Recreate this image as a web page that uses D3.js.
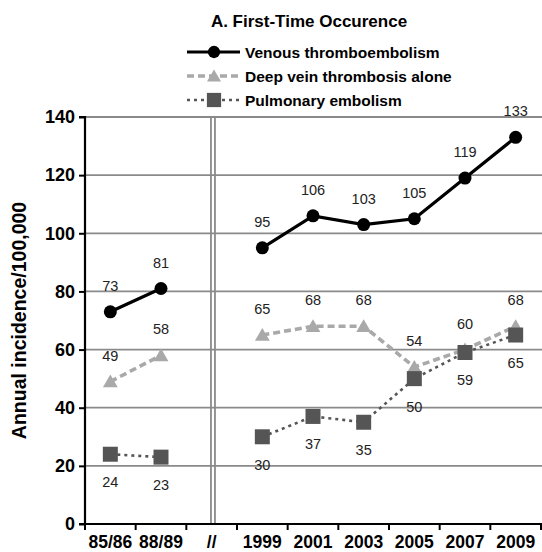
<!DOCTYPE html>
<html><head><meta charset="utf-8">
<script src="https://cdn.jsdelivr.net/npm/d3@7"></script>
<style>body{margin:0;background:#fff}svg{display:block;font-family:Arial,"Liberation Sans",sans-serif}</style>
</head><body>
<svg id="c" width="542" height="552"></svg>
<script>
const categories = ["85/86","88/89","//","1999","2001","2003","2005","2007","2009"];
const vte = [73,81,null,95,106,103,105,119,133];
const dvt = [49,58,null,65,68,68,54,60,68];
const pe  = [24,23,null,30,37,35,50,59,65];
const yTicks = [0,20,40,60,80,100,120,140];
const seriesNames = ["Venous thromboembolism","Deep vein thrombosis alone","Pulmonary embolism"];
const title = "A. First-Time Occurence";
const yLabel = "Annual incidence/100,000";

const svg = d3.select("#c");
const L = 85, R = 541, T = 117, B = 524;
const x = d3.scaleBand().domain(categories).range([L, R]).padding(0);
const y = d3.scaleLinear().domain([0,140]).range([B, T]);
const cx = c => x(c) + x.bandwidth()/2;

// gridlines
svg.append("g").selectAll("line").data(yTicks.filter(d=>d>0)).join("line")
  .attr("x1", L).attr("x2", R+2).attr("y1", d=>y(d)).attr("y2", d=>y(d))
  .attr("stroke", "#8a8a8a").attr("stroke-width", 1.8);

// break double line
const bx = cx("//");
[-0.7, 3.3].forEach(o => svg.append("line").attr("x1", bx+o).attr("x2", bx+o)
  .attr("y1", y(140)).attr("y2", y(0)).attr("stroke", "#8a8a8a").attr("stroke-width", 1.8));

// y axis
const yAxis = d3.axisLeft(y).tickValues(yTicks).tickSize(6).tickPadding(4);
const gy = svg.append("g").attr("transform", `translate(${L},0)`).call(yAxis);
gy.select(".domain").attr("stroke", "#000").attr("stroke-width", 2.2).attr("d", `M-6,${T}H0V${B}`);
gy.selectAll(".tick line").attr("stroke", "#000").attr("stroke-width", 2);
gy.selectAll(".tick text").attr("font-size", 18).attr("font-weight", "bold").attr("fill", "#000")
  .attr("font-family", "Arial, 'Liberation Sans', sans-serif");

// x axis
const gx = svg.append("g").attr("transform", `translate(0,${B})`);
gx.append("line").attr("x1", L-6).attr("x2", R+2).attr("y1", 0).attr("y2", 0).attr("stroke", "#000").attr("stroke-width", 2.2);
const bounds = categories.map((c,i) => x(c)).concat([R]);
gx.selectAll("line.tk").data(bounds).join("line").attr("class","tk")
  .attr("x1", d=>d).attr("x2", d=>d).attr("y1", 0).attr("y2", 6).attr("stroke", "#000").attr("stroke-width", 2);
gx.selectAll("text").data(categories).join("text")
  .attr("x", d=>cx(d)).attr("y", 24).attr("text-anchor","middle")
  .attr("font-size", 17.5).attr("font-weight","bold").attr("fill","#000").text(d=>d);

// y label
svg.append("text").attr("transform", `translate(26,${(T+B)/2}) rotate(-90)`)
  .attr("text-anchor","middle").attr("font-size", 19.5).attr("font-weight","bold").attr("fill","#000").text(yLabel);

// title
svg.append("text").attr("x", 309).attr("y", 27).attr("text-anchor","middle")
  .attr("font-size", 17).attr("font-weight","bold").attr("fill","#000").text(title);

const styles = [
  {data: vte, color:"#000", width:3.2, dash:null, sym:d3.symbolCircle, size:133, lab:-1},
  {data: dvt, color:"#a9a9a9", width:3.6, dash:"7,4", sym:d3.symbolTriangle, size:95, lab:-1},
  {data: pe,  color:"#555", width:2.6, dash:"3,4", sym:d3.symbolSquare, size:225, lab:1}
];

const line = d3.line().defined(d => d.v != null).x(d => cx(d.c)).y(d => y(d.v));
const drawOrder = [1,2,0];
drawOrder.forEach(i => {
  const s = styles[i];
  const pts = categories.map((c,j) => ({c, v:s.data[j]}));
  svg.append("path").attr("d", line(pts)).attr("fill","none").attr("stroke", s.color)
    .attr("stroke-width", s.width).attr("stroke-dasharray", s.dash);
  svg.append("g").selectAll("path").data(pts.filter(d=>d.v!=null)).join("path")
    .attr("d", d3.symbol().type(s.sym).size(s.size))
    .attr("transform", d => `translate(${cx(d.c)},${y(d.v) + (s.sym===d3.symbolTriangle?1.5:0)})`)
    .attr("fill", s.color);
});
drawOrder.forEach(i => {
  const s = styles[i];
  const pts = categories.map((c,j) => ({c, v:s.data[j]})).filter(d=>d.v!=null);
  svg.append("g").selectAll("text").data(pts).join("text")
    .attr("x", d=>cx(d.c)).attr("y", d => y(d.v) + (s.lab<0 ? -21 : 33))
    .attr("text-anchor","middle").attr("font-size", 14.5).attr("fill","#222").text(d=>d.v);
});

// legend
const lg = svg.append("g");
const rowsY = [52, 76, 100];
styles.forEach((s,i) => {
  const ly = rowsY[i];
  lg.append("line").attr("x1",187).attr("x2",240).attr("y1",ly).attr("y2",ly)
    .attr("stroke",s.color).attr("stroke-width",s.width).attr("stroke-dasharray",s.dash);
  lg.append("path").attr("d", d3.symbol().type(s.sym).size(s.size*0.9))
    .attr("transform",`translate(214,${ly + (s.sym===d3.symbolTriangle?1.5:0)})`).attr("fill",s.color);
  lg.append("text").attr("x",245).attr("y",ly+5.5).attr("font-size",15.5).attr("font-weight","bold")
    .attr("fill","#000").text(seriesNames[i]);
});
</script>
</body></html>
